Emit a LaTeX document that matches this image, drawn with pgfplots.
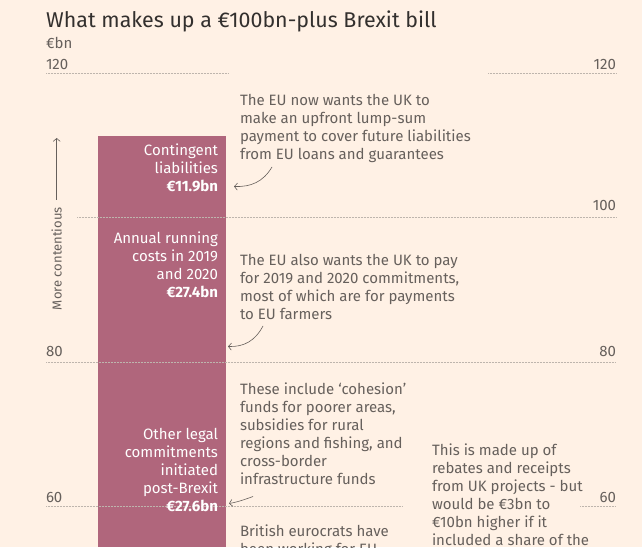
\documentclass[border=0pt]{standalone}
\usepackage{pgfplots}
\pgfplotsset{compat=1.18}
\usepackage{fontspec}
\setmainfont{Fira Sans}
\usetikzlibrary{arrows.meta}
\definecolor{bg}{RGB}{255,241,229}
\definecolor{claret}{RGB}{176,102,124}
\definecolor{txt}{RGB}{102,96,92}
\definecolor{ttl}{RGB}{51,48,46}
\definecolor{gridc}{RGB}{190,181,173}
\tikzset{
  gridl/.style={gridc, line width=0.6pt, dash pattern=on 0.5pt off 1pt},
  body/.style={font=\fontsize{15}{18}\selectfont, text=txt, inner sep=0pt, outer sep=0pt},
  wht/.style={font=\fontsize{15}{18}\selectfont, text=white, inner sep=0pt, outer sep=0pt},
  arr/.style={txt, line width=0.6pt, -{Straight Barb[length=3pt,width=7pt]}}
}
\newcommand\TL[3]{\node[body, anchor=base west] at (#1,#2) {#3};}
\newcommand\TR[3]{\node[body, anchor=base east] at (#1,#2) {#3};}
\newcommand\WR[3]{\node[wht, anchor=base east] at (#1,#2) {#3};}
\begin{document}
\begin{tikzpicture}
\useasboundingbox (0,0) rectangle (642pt,547pt);
\clip (0,0) rectangle (642pt,547pt);
\fill[bg] (0,0) rectangle (642pt,547pt);
\begin{axis}[at={(0pt,0pt)}, anchor=south west,
  width=642pt, height=547pt, scale only axis,
  xmin=0, xmax=642, ymin=54.334, ymax=130.20,
  axis lines=none, xtick=\empty, ytick=\empty,
  ybar stacked, bar width=128, clip=true]
% gridlines
\draw[gridl] (axis cs:46,120) -- (axis cs:228,120);
\draw[gridl] (axis cs:488,120) -- (axis cs:616,120);
\draw[gridl] (axis cs:77,100) -- (axis cs:616,100);
\draw[gridl] (axis cs:46,80) -- (axis cs:616,80);
\draw[gridl] (axis cs:46,60) -- (axis cs:403,60);
\draw[gridl] (axis cs:580,60) -- (axis cs:616,60);
% stacked bar: rest of bill (incl. other legal commitments), annual running costs, contingent liabilities
\addplot[fill=claret, draw=none] coordinates {(162,73.5)};
\addplot[fill=claret, draw=none] coordinates {(162,27.7)};
\addplot[fill=claret, draw=none] coordinates {(162,10.2)};
\draw[white, line width=1.5pt] (axis cs:98,73.5) -- (axis cs:226,73.5);
\draw[white, line width=1.5pt] (axis cs:98,101.2) -- (axis cs:226,101.2);
\end{axis}
\begin{scope}[shift={(0pt,547pt)}, x=1pt, y=-1pt]
\node[anchor=base west, inner sep=0pt, font=\fontsize{21.4}{25}\selectfont, text=ttl] at (46,28) {What makes up a €100bn-plus Brexit bill};
\TL{46}{49}{€bn}
\TL{46}{70}{120}
\TR{616}{70}{120}
\TR{616}{210}{100}
\TL{46}{356}{80}
\TR{616}{356}{80}
\TL{46}{502}{60}
\TR{616}{502}{60}
% More contentious
\node[body, font=\fontsize{13}{15}\selectfont, rotate=90, anchor=base west] at (61.5,310) {More contentious};
\draw[arr] (56.7,200) -- (56.7,138);
% bar labels
\WR{218}{156}{Contingent}
\WR{218}{174}{liabilities}
\WR{218}{192}{\textbf{€11.9bn}}
\WR{218}{243}{Annual running}
\WR{218}{261}{costs in 2019}
\WR{218}{279}{and 2020}
\WR{218}{297}{\textbf{€27.4bn}}
\WR{218}{439}{Other legal}
\WR{218}{457}{commitments}
\WR{218}{475}{initiated}
\WR{218}{493}{post-Brexit}
\WR{218}{511}{\textbf{€27.6bn}}
% annotations
\TL{240}{106}{The EU now wants the UK to}
\TL{240}{124}{make an upfront lump-sum}
\TL{240}{142}{payment to cover future liabilities}
\TL{240}{160}{from EU loans and guarantees}
\TL{240}{265}{The EU also wants the UK to pay}
\TL{240}{283}{for 2019 and 2020 commitments,}
\TL{240}{301}{most of which are for payments}
\TL{240}{319}{to EU farmers}
\TL{240}{394}{These include ‘cohesion’}
\TL{240}{412}{funds for poorer areas,}
\TL{240}{430}{subsidies for rural}
\TL{240}{448}{regions and fishing, and}
\TL{240}{466}{cross-border}
\TL{240}{484}{infrastructure funds}
\TL{240}{536}{British eurocrats have}
\TL{240}{554}{been working for EU}
\TL{432}{455}{This is made up of}
\TL{432}{473}{rebates and receipts}
\TL{432}{491}{from UK projects - but}
\TL{432}{509}{would be €3bn to}
\TL{432}{527}{€10bn higher if it}
\TL{432}{545}{included a share of the}
% arrows
\draw[arr] (272,167) .. controls (263,182) and (251,187) .. (234,186.5);
\draw[arr] (263,326) .. controls (255,341) and (244,347) .. (228,346.5);
\draw[arr] (253,496.5) .. controls (246,499) and (238,502) .. (229,503.5);
\end{scope}
\end{tikzpicture}
\end{document}
